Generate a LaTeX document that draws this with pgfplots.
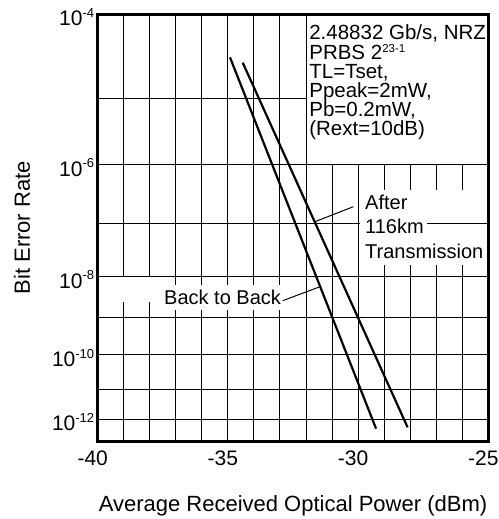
\documentclass[border=0pt]{standalone}
\usepackage{pgfplots}
\pgfplotsset{compat=1.18}
\usepackage{fontspec}
\setmainfont{Liberation Sans}
\newcommand\sups[1]{\raisebox{0.4em}{\fontsize{13}{13}\selectfont #1}}
\newcommand\fbig{\fontsize{21}{25}\selectfont}
\newcommand\flab{\fontsize{22}{25}\selectfont}
\newcommand\fann{\fontsize{20.5}{20}\selectfont}
\newcommand\fafter{\fontsize{20}{20}\selectfont}
\begin{document}
\begin{tikzpicture}
% y axis: BER on the chart's own (non-logarithmic) scale; y value = distance from bottom of the frame
\begin{axis}[name=ax, scale only axis, width=390.6pt, height=427pt,
  xmin=-40, xmax=-25, ymin=0, ymax=427,
  xtick={-40,-35,-30,-25}, xticklabels={-40,-35,-30,-25},
  minor xtick={-39,-38,...,-26},
  ytick={22,86.3,164.6,276.6,427},
  yticklabels={10\sups{-12},10\sups{-10},10\sups{-8},10\sups{-6},10\sups{-4}},
  minor ytick={22,51.3,86.3,124,164.6,217.3,276.6,342.6},
  grid=minor,
  minor grid style={black, line width=1.0pt},
  major tick length=0pt, minor tick length=0pt,
  axis line style={line width=2.6pt},
  tick label style={font=\fbig},
  xticklabel style={xshift=-5pt, yshift=-6pt},
  yticklabel style={yshift=-3pt},
]
\fill[white] (axis cs:-31.98,277.1) rectangle (axis cs:-25,427);
\fill[white] (axis cs:-29.92,176.3) rectangle (axis cs:-25,251.3);
\draw[line width=1.0pt] (axis cs:-27.35,217.3) -- (axis cs:-25,217.3);
\fill[white] (axis cs:-37.6,131.3) rectangle (axis cs:-32.81,156.3);
\fill[white] (axis cs:-39.14,139.6) rectangle (axis cs:-37.68,163.9);

\addplot[black, line width=2.2pt] coordinates {(-34.92,384.0) (-29.31,12.6)};
\addplot[black, line width=2.2pt] coordinates {(-34.43,378.6) (-28.10,14.0)};

\draw[line width=1.0pt] (axis cs:-30.184,234.6) -- (axis cs:-31.655,219.6);
\draw[line width=1.0pt] (axis cs:-32.896,140.6) -- (axis cs:-31.463,154.6);

\node[anchor=base west, inner sep=0, font=\fann] at (axis cs:-31.88,401.3) {2.48832 Gb/s, NRZ};
\node[anchor=base west, inner sep=0, font=\fann] at (axis cs:-31.88,382.2) {PRBS 2\raisebox{0.3em}{\fontsize{11.5}{11.5}\selectfont 23-1}};
\node[anchor=base west, inner sep=0, font=\fann] at (axis cs:-31.88,363.1) {TL=Tset,};
\node[anchor=base west, inner sep=0, font=\fann] at (axis cs:-31.88,344.0) {Ppeak=2mW,};
\node[anchor=base west, inner sep=0, font=\fann] at (axis cs:-31.88,324.9) {Pb=0.2mW,};
\node[anchor=base west, inner sep=0, font=\fann] at (axis cs:-31.88,305.8) {(Rext=10dB)};

\node[anchor=base west, inner sep=0, font=\fafter] at (axis cs:-29.735,231.3) {After};
\node[anchor=base west, inner sep=0, font=\fafter] at (axis cs:-29.735,208.0) {116km};
\node[anchor=base west, inner sep=0, font=\fafter] at (axis cs:-29.735,183.0) {Transmission};

\node[anchor=base west, inner sep=0, font=\fafter] at (axis cs:-37.454,136.3) {Back to Back};

\draw[line width=2.6pt] (rel axis cs:0,0) rectangle (rel axis cs:1,1);
\end{axis}
\node[rotate=90, font=\flab] at ([xshift=-75.7pt]ax.west) {Bit Error Rate};
\node[anchor=base, font=\flab] at ([yshift=-70.4pt]ax.south) {Average Received Optical Power (dBm)};
\pgfresetboundingbox
\path ([xshift=-97.7pt, yshift=-77.7pt]ax.south west) rectangle ([xshift=9.7pt, yshift=14.3pt]ax.north east);
\end{tikzpicture}
\end{document}
